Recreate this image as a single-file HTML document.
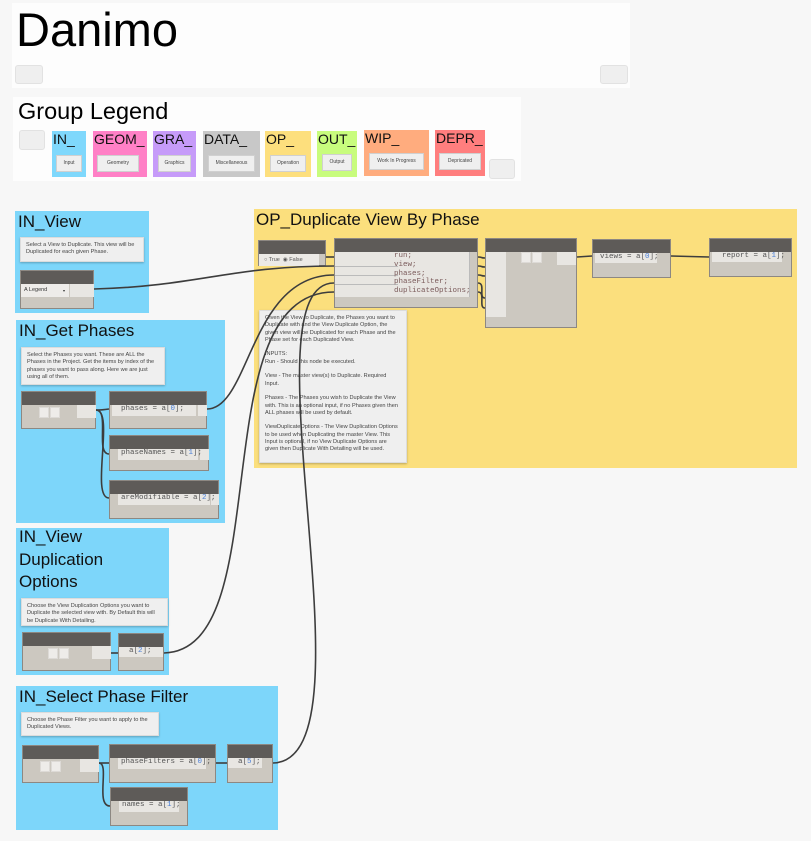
<!DOCTYPE html>
<html><head><meta charset="utf-8"><style>
*{margin:0;padding:0;box-sizing:border-box}
body{width:811px;height:841px;background:#f7f7f7;position:relative;overflow:hidden;font-family:"Liberation Sans",sans-serif}
.a{position:absolute}
.box{position:absolute;background:#fdfdfd}
.g{position:absolute}
.gt{position:absolute;left:3px;top:0;font-size:17px;color:#111;line-height:22px}
.btn{position:absolute;background:#efefef;border:1px solid #e2e2e2;border-radius:3px}
.note{position:absolute;background:#efefef;border:1px solid #dcdcdc;box-shadow:0 1px 2px rgba(0,0,0,.25);font-size:5.6px;line-height:7.4px;color:#444;padding:4px 5px}
.n{position:absolute;background:#ccc8c0;border:1px solid #8d8882}
.n .h{position:absolute;left:0;right:0;top:0;height:13px;background:#5e5b58}
.lt{position:absolute;background:#e8e6e2}
.sq{position:absolute;width:10px;height:11px;background:#eeece9;border:1px solid #dddad6}
.code{position:absolute;font-family:"Liberation Mono",monospace;font-size:7.5px;color:#555;white-space:pre;line-height:11px}
.code b{font-weight:normal;color:#4a7fd8}
.lg{position:absolute;font-size:14px;line-height:16px;color:#111;padding-left:1px}
.lg .nb{position:absolute;background:#efefef;border:1px solid #d0d0d0;font-size:5px;color:#444;text-align:center;line-height:15px;height:17px}
</style></head><body>

<!-- title -->
<div class="box" style="left:12px;top:3px;width:618px;height:85px"></div>
<div class="a" style="left:16px;top:3px;font-size:47px;line-height:54px;color:#000">Danimo</div>
<div class="btn" style="left:15px;top:65px;width:28px;height:19px"></div>
<div class="btn" style="left:600px;top:65px;width:28px;height:19px"></div>

<!-- legend -->
<div class="box" style="left:13px;top:97px;width:508px;height:84px"></div>
<div class="a" style="left:18px;top:98px;font-size:23.5px;line-height:26px;color:#000">Group Legend</div>
<div class="btn" style="left:19px;top:130px;width:26px;height:20px"></div>
<div class="lg" style="left:52px;top:131px;width:34px;height:46px;background:#7fd8fc">IN_<div class="nb" style="left:4px;top:24px;width:26px">Input</div></div>
<div class="lg" style="left:93px;top:131px;width:54px;height:46px;background:#ff80c6">GEOM_<div class="nb" style="left:4px;top:24px;width:42px">Geometry</div></div>
<div class="lg" style="left:153px;top:131px;width:43px;height:46px;background:#c69bf9">GRA_<div class="nb" style="left:5px;top:24px;width:33px">Graphics</div></div>
<div class="lg" style="left:203px;top:131px;width:57px;height:46px;background:#c8c8c8">DATA_<div class="nb" style="left:5px;top:24px;width:47px">Miscellaneous</div></div>
<div class="lg" style="left:265px;top:131px;width:46px;height:46px;background:#fddf7d">OP_<div class="nb" style="left:5px;top:24px;width:36px">Operation</div></div>
<div class="lg" style="left:317px;top:131px;width:40px;height:46px;background:#c8fc7d">OUT_<div class="nb" style="left:5px;top:23px;width:30px">Output</div></div>
<div class="lg" style="left:364px;top:130px;width:65px;height:46px;background:#ffac7e">WIP_<div class="nb" style="left:5px;top:23px;width:55px">Work In Progress</div></div>
<div class="lg" style="left:435px;top:130px;width:50px;height:46px;background:#ff7e7e">DEPR_<div class="nb" style="left:4px;top:23px;width:42px">Depricated</div></div>
<div class="btn" style="left:489px;top:159px;width:26px;height:20px"></div>

<!-- groups -->
<div class="g" style="left:15px;top:211px;width:134px;height:102px;background:#7dd6fa"><div class="gt">IN_View</div></div>
<div class="g" style="left:16px;top:320px;width:209px;height:203px;background:#7dd6fa"><div class="gt">IN_Get Phases</div></div>
<div class="g" style="left:16px;top:528px;width:153px;height:147px;background:#7dd6fa"><div class="gt" style="line-height:22.5px;top:-2px">IN_View<br>Duplication<br>Options</div></div>
<div class="g" style="left:16px;top:686px;width:262px;height:144px;background:#7dd6fa"><div class="gt">IN_Select Phase Filter</div></div>
<div class="g" style="left:254px;top:209px;width:543px;height:259px;background:#fbdf7d"><div class="gt" style="left:2px">OP_Duplicate View By Phase</div></div>

<!-- IN_View -->
<div class="note" style="left:20px;top:237px;width:124px;height:25px">Select a View to Duplicate. This view will be Duplicated for each given Phase.</div>
<div class="n" style="left:20px;top:270px;width:74px;height:39px"><div class="h"></div>
<div class="lt" style="left:0;top:13px;width:48px;height:13px;background:#eeece9;font-size:5.5px;color:#333;line-height:13px;padding-left:3px">A Legend<span style="position:absolute;left:42px;font-size:4px">▾</span></div>
<div class="lt" style="left:49px;top:13px;width:24px;height:13px"></div></div>

<!-- Get Phases -->
<div class="note" style="left:21px;top:347px;width:144px;height:38px">Select the Phases you want. These are ALL the Phases in the Project. Get the items by index of the phases you want to pass along. Here we are just using all of them.</div>
<div class="n" style="left:21px;top:391px;width:75px;height:38px"><div class="h"></div><div class="sq" style="left:17px;top:15px"></div><div class="sq" style="left:28px;top:15px"></div><div class="lt" style="left:55px;top:13px;width:19px;height:13px"></div></div>
<div class="n" style="left:109px;top:391px;width:98px;height:38px"><div class="h"></div><div class="lt" style="left:2px;top:13px;width:84px;height:11px"></div><div class="lt" style="left:88px;top:13px;width:9px;height:11px"></div><div class="code" style="left:11px;top:12px">phases = a[<b>0</b>];</div></div>
<div class="n" style="left:109px;top:435px;width:100px;height:36px"><div class="h"></div><div class="lt" style="left:8px;top:13px;width:80px;height:11px"></div><div class="lt" style="left:90px;top:13px;width:9px;height:11px"></div><div class="code" style="left:11px;top:12px">phaseNames = a[<b>1</b>];</div></div>
<div class="n" style="left:109px;top:480px;width:110px;height:39px"><div class="h"></div><div class="lt" style="left:8px;top:13px;width:92px;height:11px"></div><div class="lt" style="left:101px;top:13px;width:8px;height:11px"></div><div class="code" style="left:11px;top:12px">areModifiable = a[<b>2</b>];</div></div>

<!-- VDO -->
<div class="note" style="left:21px;top:598px;width:147px;height:28px">Choose the View Duplication Options you want to Duplicate the selected view with. By Default this will be Duplicate With Detailing.</div>
<div class="n" style="left:22px;top:632px;width:89px;height:39px"><div class="h"></div><div class="sq" style="left:25px;top:15px"></div><div class="sq" style="left:36px;top:15px"></div><div class="lt" style="left:69px;top:13px;width:19px;height:13px"></div></div>
<div class="n" style="left:118px;top:633px;width:46px;height:38px"><div class="h"></div><div class="lt" style="left:0;top:13px;width:44px;height:10px"></div><div class="code" style="left:10px;top:12px">a[<b>2</b>];</div></div>

<!-- Phase filter -->
<div class="note" style="left:21px;top:712px;width:138px;height:24px">Choose the Phase Filter you want to apply to the Duplicated Views.</div>
<div class="n" style="left:22px;top:745px;width:77px;height:38px"><div class="h"></div><div class="sq" style="left:17px;top:15px"></div><div class="sq" style="left:28px;top:15px"></div><div class="lt" style="left:57px;top:13px;width:19px;height:13px"></div></div>
<div class="n" style="left:109px;top:744px;width:107px;height:39px"><div class="h"></div><div class="lt" style="left:8px;top:13px;width:88px;height:11px"></div><div class="code" style="left:11px;top:12px">phaseFilters = a[<b>0</b>];</div></div>
<div class="n" style="left:227px;top:744px;width:46px;height:39px"><div class="h"></div><div class="lt" style="left:0;top:13px;width:34px;height:10px"></div><div class="code" style="left:10px;top:12px">a[<b>5</b>];</div></div>
<div class="n" style="left:110px;top:787px;width:78px;height:39px"><div class="h"></div><div class="lt" style="left:8px;top:13px;width:60px;height:11px"></div><div class="code" style="left:11px;top:12px">names = a[<b>1</b>];</div></div>

<!-- OP -->
<div class="n" style="left:258px;top:240px;width:68px;height:26px"><div class="h"></div><div class="lt" style="left:0;top:13px;width:60px;height:12px;background:#eceae6;font-size:5.5px;color:#555;line-height:12px;padding-left:5px">○ True &nbsp;◉ False</div></div>
<div class="n" style="left:334px;top:238px;width:144px;height:70px"><div class="h"></div>
<div class="lt" style="left:0;top:13px;width:134px;height:45px"></div>
<div class="a" style="left:0;top:27px;width:63px;height:1px;background:#bbb"></div>
<div class="a" style="left:0;top:36px;width:63px;height:1px;background:#bbb"></div>
<div class="a" style="left:0;top:45px;width:63px;height:1px;background:#bbb"></div>
<div class="a" style="left:134px;top:13px;width:1px;height:45px;background:#bbb"></div>
<div class="code" style="left:59px;top:13px;line-height:8.8px;color:#7a5a5a">run;
view;
phases;
phaseFilter;
duplicateOptions;</div></div>
<div class="note" style="left:259px;top:310px;width:148px;height:153px;line-height:7.3px">Given the View to Duplicate, the Phases you want to Duplicate with and the View Duplicate Option, the given view will be Duplicated for each Phase and the Phase set for each Duplicated View.<br><br>INPUTS:<br>Run - Should this node be executed.<br><br>View - The master view(s) to Duplicate. Required Input.<br><br>Phases - The Phases you wish to Duplicate the View with. This is an optional input, if no Phases given then ALL phases will be used by default.<br><br>ViewDuplicateOptions - The View Duplication Options to be used when Duplicating the master View. This Input is optional, if no View Duplicate Options are given then Duplicate With Detailing will be used.</div>
<div class="n" style="left:485px;top:238px;width:92px;height:90px"><div class="h"></div><div class="lt" style="left:0;top:13px;width:20px;height:65px"></div><div class="sq" style="left:35px;top:13px"></div><div class="sq" style="left:46px;top:13px"></div><div class="lt" style="left:71px;top:13px;width:19px;height:13px"></div></div>
<div class="n" style="left:592px;top:239px;width:79px;height:39px"><div class="h"></div><div class="lt" style="left:2px;top:13px;width:62px;height:10px"></div><div class="code" style="left:7px;top:12px">views = a[<b>0</b>];</div></div>
<div class="n" style="left:709px;top:238px;width:83px;height:39px"><div class="h"></div><div class="lt" style="left:2px;top:13px;width:70px;height:10px"></div><div class="code" style="left:12px;top:12px">report = a[<b>1</b>];</div></div>

<svg class="a" style="left:0;top:0" width="811" height="841" fill="none" stroke="#3d3d3d" stroke-width="1.6">
<path d="M94 289 C200 286 230 266 334 266"/>
<path d="M207 409 C250 409 250 275 334 275"/>
<path d="M164 653 C280 650 200 292 334 292"/>
<path d="M273 763 C380 760 240 283 334 283"/>
<path d="M326 257 L334 257"/>
<path d="M96 410 C104 410 100 410 109 409"/>
<path d="M96 410 C110 410 95 454 109 454"/>
<path d="M96 410 C115 410 90 498 109 498"/>
<path d="M111 653 L118 653"/>
<path d="M99 763 L109 763"/>
<path d="M99 763 C110 763 95 806 110 806"/>
<path d="M216 763 L227 763"/>
<path d="M478 257 C483 257 480 258 485 258"/>
<path d="M478 266 C483 266 480 267 485 267"/>
<path d="M478 275 C483 275 480 276 485 276"/>
<path d="M478 283 C486 283 478 298 485 298"/>
<path d="M478 292 C486 292 478 308 485 308"/>
<path d="M577 257 L592 256"/>
<path d="M671 256 L709 257"/>
</svg>
</body></html>
